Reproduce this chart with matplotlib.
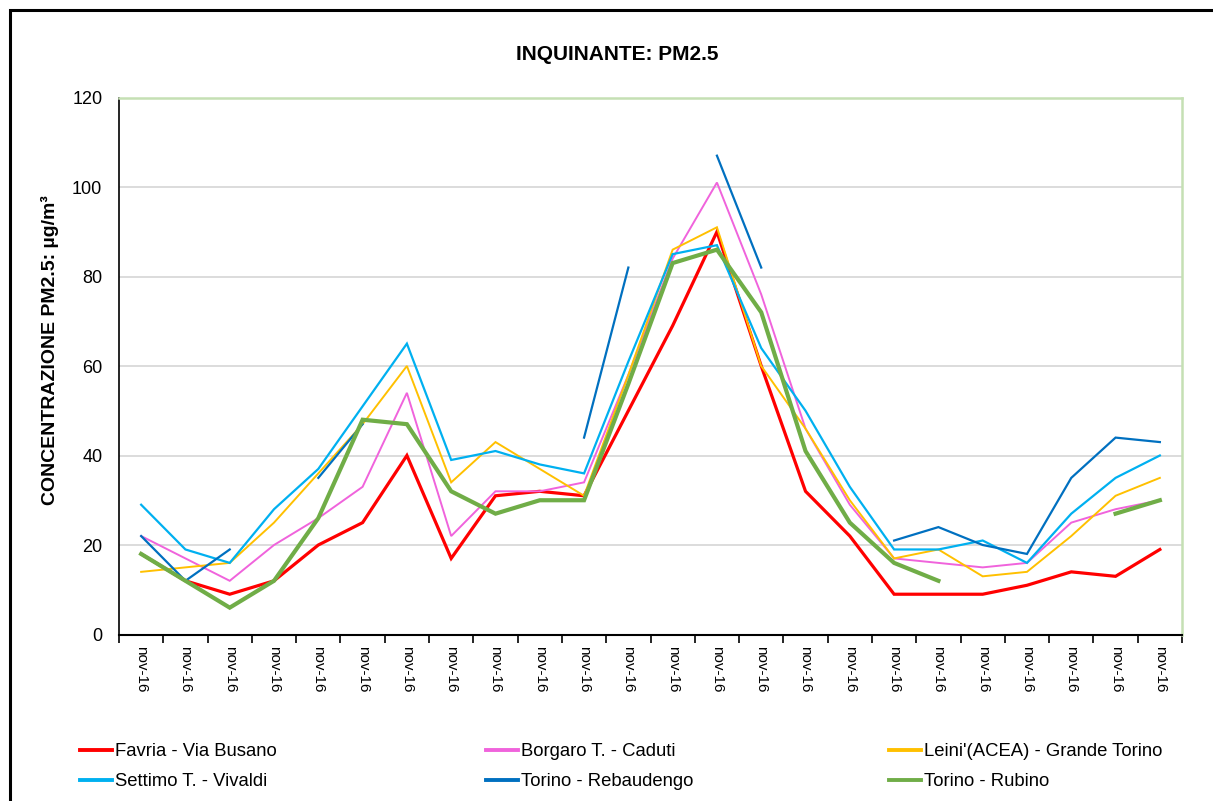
import numpy as np
import matplotlib.pyplot as plt
from matplotlib.lines import Line2D
from matplotlib.patches import Rectangle

plt.rcParams['font.family'] = ['Liberation Sans', 'DejaVu Sans']

nan = np.nan
labels = ["nov-16"] * 24

favria = [18, 12, 9, 12, 20, 25, 40, 17, 31, 32, 31, 50, 69, 90, 60, 32, 22, 9, 9, 9, 11, 14, 13, 19]
borgaro = [22, 17, 12, 20, 26, 33, 54, 22, 32, 32, 34, 58, 84, 101, 76, 46, 29, 17, 16, 15, 16, 25, 28, 30]
leini = [14, 15, 16, 25, 36, 47, 60, 34, 43, 37, 31, 58, 86, 91, 60, 46, 30, 17, 19, 13, 14, 22, 31, 35]
settimo = [29, 19, 16, 28, 37, 51, 65, 39, 41, 38, 36, 61, 85, 87, 64, 50, 33, 19, 19, 21, 16, 27, 35, 40]
rebaudengo = [22, 12, 19, nan, 35, 47, nan, nan, nan, nan, 44, 82, nan, 107, 82, nan, nan, 21, 24, 20, 18, 35, 44, 43]
rubino = [18, 12, 6, 12, 26, 48, 47, 32, 27, 30, 30, 56, 83, 86, 72, 41, 25, 16, 12, nan, nan, nan, 27, 30]

series = [
    ("Favria - Via Busano", favria, "#ff0000", 2.3),
    ("Borgaro T. - Caduti", borgaro, "#f063dc", 1.4),
    ("Leini'(ACEA) - Grande Torino", leini, "#ffc000", 1.4),
    ("Settimo T. - Vivaldi", settimo, "#00b0f0", 1.6),
    ("Torino - Rebaudengo", rebaudengo, "#0070c0", 1.6),
    ("Torino - Rubino", rubino, "#70ad47", 3.0),
]

W, H = 1213, 801
fig = plt.figure(figsize=(W / 100, H / 100), dpi=100)
ax = fig.add_axes([119 / W, 1 - 634.5 / H, (1182 - 119) / W, (634.5 - 97.5) / H])

x = np.arange(len(labels))
handles = {}
for name, vals, col, lw in series:
    ln, = ax.plot(x, vals, color=col, lw=lw, solid_joinstyle="miter", zorder=3)
    handles[name] = ln

ax.set_xlim(-0.5, len(labels) - 0.5)
ax.set_ylim(0, 120)
ax.set_yticks(range(0, 121, 20))
ax.set_xticks(x)
ax.set_xticklabels(labels, rotation=-90, fontsize=11)
ax.set_xticks(np.arange(-0.5, len(labels), 1), minor=True)
ax.tick_params(axis="x", which="major", length=0, pad=8)
ax.tick_params(axis="x", which="minor", length=6, width=1.2, direction="out", color="black")
ax.tick_params(axis="y", length=0, pad=12, labelsize=13)

ax.grid(axis="y", color="#d9d9d9", lw=1.3, zorder=0)
ax.set_axisbelow(True)
for s in ("top", "right"):
    ax.spines[s].set_color("#c5e0b4")
    ax.spines[s].set_linewidth(1.8)
ax.spines["left"].set_color("black")
ax.spines["left"].set_linewidth(1.2)
ax.spines["bottom"].set_color("black")
ax.spines["bottom"].set_linewidth(1.5)

fig.text(617 / W, 1 - 55 / H, "INQUINANTE: PM2.5", ha="center", va="center",
         fontsize=15, fontweight="bold")
fig.text(50 / W, 1 - 350 / H, "CONCENTRAZIONE PM2.5: µg/m³", ha="center", va="center",
         rotation=90, fontsize=14, fontweight="bold")

# legend, three columns of two rows
cols = [
    (80, ["Favria - Via Busano", "Settimo T. - Vivaldi"]),
    (486, ["Borgaro T. - Caduti", "Torino - Rebaudengo"]),
    (889, ["Leini'(ACEA) - Grande Torino", "Torino - Rubino"]),
]
for cx, names in cols:
    hs = [Line2D([], [], color=handles[n].get_color(), lw=2.8) for n in names]
    fig.legend(hs, names, loc="upper left", bbox_to_anchor=(cx / W, 1 - 743 / H),
               frameon=False, fontsize=13.3, handlelength=1.75, handletextpad=0.12,
               borderpad=0, borderaxespad=0, labelspacing=0.72)

fig.patches.append(Rectangle((9.5 / W, -0.1), 1.2, 1 - 10 / H + 0.1, transform=fig.transFigure,
                             fill=False, edgecolor="black", lw=2.2))

fig.savefig("out.png", dpi=100)
